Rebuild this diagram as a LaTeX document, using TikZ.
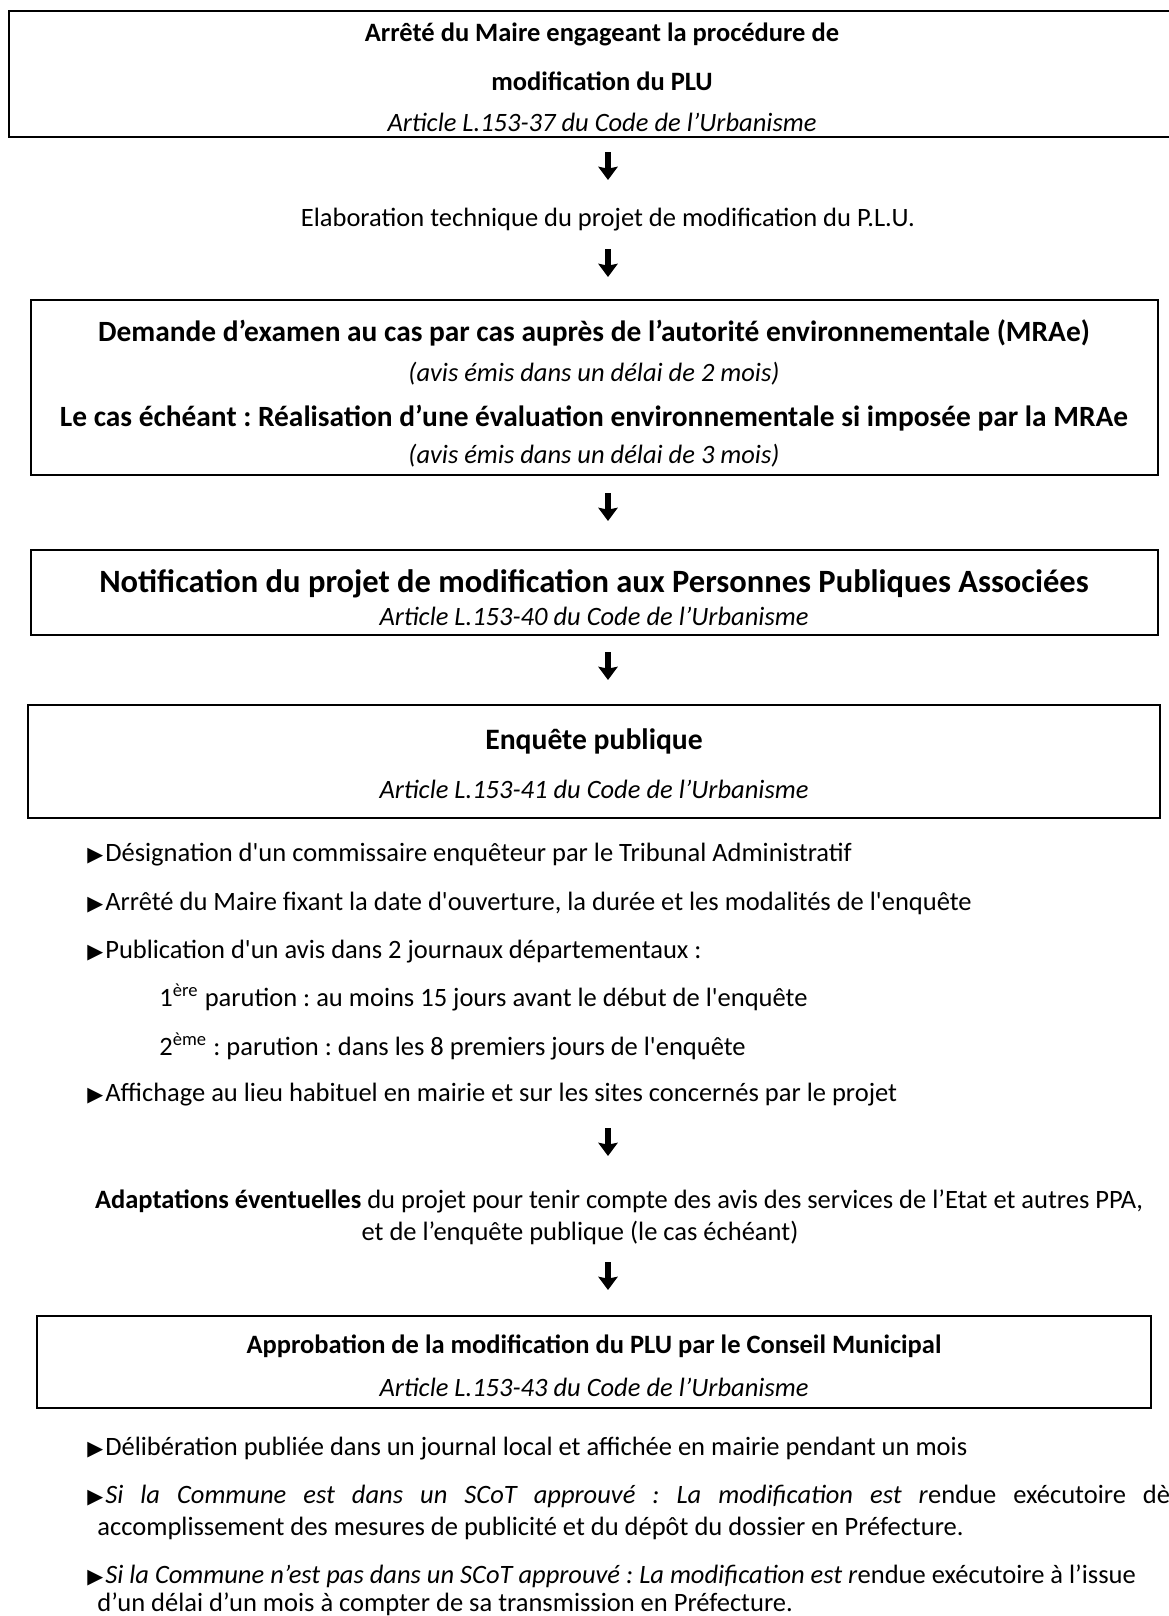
\documentclass[tikz,border=0pt]{standalone}
\usepackage{fontspec}
\setmainfont{Carlito}
\newfontfamily\symfont{DejaVu Sans}[Scale=0.78]
\usetikzlibrary{arrows.meta,fit}
\frenchspacing
\newcommand\sq{\textquotesingle}
\def\tri{{\symfont ▶}\hspace{0.8pt}}
\def\arrowx{608}
\tikzset{
  step frame/.style={draw=black, line width=0.9pt, inner sep=0pt},
  line text/.style={anchor=base, inner sep=0pt, font=\fontsize{11}{13}\selectfont},
  bullet text/.style={line text, anchor=base west},
  flow arrow/.style={line width=2.4pt, -{Stealth[length=5.5pt, width=8pt, inset=0.8pt]}}
}
\def\StepFrame#1#2#3#4#5{%
  \node[step frame, fit={(#2,#3) (#4,#5)}] (#1) {};
}
\def\TextLine#1#2#3#4{%
  \node[line text] (#1) at (#2,#3) {#4};
}
\def\Bullet#1#2#3{%
  \node[bullet text] (#1) at (87,#2) {\tri#3};
}
\def\FlowArrow#1#2{%
  \coordinate (#1 top) at (\arrowx,#2-14);
  \coordinate (#1 tip) at (\arrowx,#2+14);
  \draw[flow arrow] (#1 top) -- (#1 tip);
}
\begin{document}
\begin{tikzpicture}[x=0.4151pt, y=-0.4151pt]
\useasboundingbox (0,0) rectangle (1169,1616);
% arrete
\StepFrame{arrete box}{9}{11}{1215}{137}
\TextLine{arrete a}{602}{41}{\textbf{Arrêté du Maire engageant la procédure de}}
\TextLine{arrete b}{602}{90}{\textbf{modification du PLU}}
\TextLine{art37}{602}{131}{\textit{Article L.153-37 du Code de l’Urbanisme}}
\FlowArrow{a1}{166}
\TextLine{elab}{608}{226}{Elaboration technique du projet de modification du P.L.U.}
\FlowArrow{a2}{263}
% cas par cas
\StepFrame{mrae box}{31}{300}{1158}{475}
\TextLine{demande}{594}{341}{\fontsize{12.2}{14}\selectfont\textbf{Demande d’examen au cas par cas auprès de l’autorité environnementale (MRAe)}}
\TextLine{avis2}{594}{381}{\textit{(avis émis dans un délai de 2 mois)}}
\TextLine{lecas}{594}{426}{\fontsize{12.2}{14}\selectfont\textbf{Le cas échéant : Réalisation d’une évaluation environnementale si imposée par la MRAe}}
\TextLine{avis3}{594}{463}{\textit{(avis émis dans un délai de 3 mois)}}
\FlowArrow{a3}{507}
% ppa
\StepFrame{ppa box}{31}{550}{1158}{635}
\TextLine{notif}{594}{592}{\fontsize{13.5}{15}\selectfont\textbf{Notification du projet de modification aux Personnes Publiques Associées}}
\TextLine{art40}{594}{625}{\textit{Article L.153-40 du Code de l’Urbanisme}}
\FlowArrow{a4}{666}
% enquete
\StepFrame{enquete box}{28}{705}{1160}{818}
\TextLine{enquete}{594}{749}{\fontsize{12.3}{14}\selectfont\textbf{Enquête publique}}
\TextLine{art41}{594}{798}{\textit{Article L.153-41 du Code de l’Urbanisme}}
\Bullet{b1}{861}{Désignation d\sq un commissaire enquêteur par le Tribunal Administratif}
\Bullet{b2}{910}{Arrêté du Maire fixant la date d\sq ouverture, la durée et les modalités de l\sq enquête}
\Bullet{b3}{958}{Publication d\sq un avis dans 2 journaux départementaux :}
\node[bullet text] (p1) at (159,1006) {1\textsuperscript{ère} parution : au moins 15 jours avant le début de l\sq enquête};
\node[bullet text] (p2) at (159,1055) {2\textsuperscript{ème} : parution : dans les 8 premiers jours de l\sq enquête};
\Bullet{b4}{1101}{Affichage au lieu habituel en mairie et sur les sites concernés par le projet}
\FlowArrow{a5}{1142}
\TextLine{adapt a}{619}{1208}{\textbf{Adaptations éventuelles} du projet pour tenir compte des avis des services de l’Etat et autres PPA,}
\TextLine{adapt b}{580}{1240}{et de l’enquête publique (le cas échéant)}
\FlowArrow{a6}{1276}
% approbation
\StepFrame{approb box}{37}{1316}{1151}{1408}
\TextLine{approb}{594}{1353}{\textbf{Approbation de la modification du PLU par le Conseil Municipal}}
\TextLine{art43}{594}{1396}{\textit{Article L.153-43 du Code de l’Urbanisme}}
\Bullet{c1}{1455}{Délibération publiée dans un journal local et affichée en mairie pendant un mois}
\node[bullet text] (c2) at (87,1503) {\hbox to 453.7pt{\tri\textit{Si la Commune est dans un SCoT approuvé : La modification est r}endue exécutoire dès}};
\node[bullet text] (c2 b) at (97,1535) {accomplissement des mesures de publicité et du dépôt du dossier en Préfecture.};
\Bullet{c3}{1583}{\textit{Si la Commune n’est pas dans un SCoT approuvé : La modification est r}endue exécutoire à l’issue}
\node[bullet text] (c3 b) at (97,1611) {d’un délai d’un mois à compter de sa transmission en Préfecture.};
\end{tikzpicture}
\end{document}
